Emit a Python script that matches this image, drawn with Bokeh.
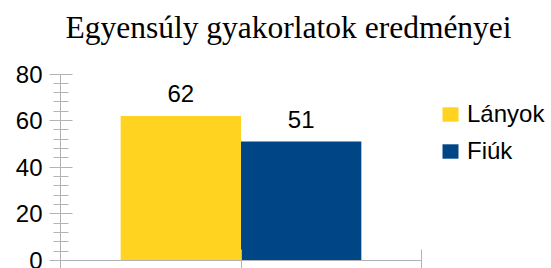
from bokeh.plotting import figure
from bokeh.models import (ColumnDataSource, Range1d, FixedTicker,
                          SingleIntervalTicker, LabelSet, Legend, LegendItem)
from bokeh.core.properties import value
from bokeh.transform import dodge
from bokeh.embed import file_html
from bokeh.resources import INLINE

title = "Egyensúly gyakorlatok eredményei"
group = ["Eredmény"]
series = ["Lányok", "Fiúk"]
values = [62, 51]
colors = ["#FFD320", "#004586"]
y_ticks_step = 20
y_max = 80

# layout (pixels)
W, H = 551, 268
frame_left, frame_right = 60, 551
frame_top, frame_bottom = 46, 260
axis_right_px = 421         # where the category axis ends
axis_top_px = 73.5          # where y_max sits

# each category occupies 2 units on the x axis; its centre is at 2*i + 1
n_groups = len(group)
x_max = 2 * n_groups
centres = [2 * i + 1 for i in range(n_groups)]
bar_w = 2 / 3
x_end = x_max * (frame_right - frame_left) / (axis_right_px - frame_left)
y_end = y_max * (frame_bottom - frame_top) / (frame_bottom - axis_top_px)

p = figure(width=W, height=H, x_range=Range1d(0, x_end), y_range=Range1d(0, y_end),
           output_backend="svg", toolbar_location=None,
           min_border_left=frame_left, min_border_right=W - frame_right,
           min_border_top=frame_top, min_border_bottom=H - frame_bottom)
p.outline_line_color = None
p.grid.visible = False
p.background_fill_color = "white"

p.title.text = title
p.title.text_font = "Liberation Serif"
p.title.text_font_size = "31.5px"
p.title.text_font_style = "normal"
p.title.text_color = "black"
p.title.align = "left"
p.title.offset = 5
p.title.standoff = 4

offsets = [-bar_w / 2, bar_w / 2]
items = []
for name, val, col, off in zip(series, values, colors, offsets):
    src = ColumnDataSource(dict(x=centres, y=[val], label=[str(val)]))
    r = p.vbar(x=dodge("x", off), top="y", width=bar_w, source=src,
               fill_color=col, line_color=None)
    items.append(LegendItem(label=name, renderers=[r]))
    lbl = LabelSet(x=dodge("x", off), y="y", text="label", source=src,
                   text_align="center", text_baseline="alphabetic", y_offset=14,
                   text_font=value("Liberation Sans"), text_font_size=value("24px"),
                   text_color="black")
    p.add_layout(lbl)

ax = p.yaxis[0]
ax.ticker = SingleIntervalTicker(interval=y_ticks_step, num_minor_ticks=5)
ax.bounds = (0, y_max)
ax.axis_line_color = "#b3b3b3"
ax.major_tick_line_color = "#b3b3b3"
ax.minor_tick_line_color = "#b3b3b3"
ax.major_tick_in = 12
ax.major_tick_out = 11
ax.minor_tick_in = 8
ax.minor_tick_out = 7
ax.major_label_standoff = 7
ax.major_label_text_font = "Liberation Sans"
ax.major_label_text_font_size = "24px"
ax.major_label_text_color = "black"

xticks = list(range(0, x_max + 1))
xa = p.xaxis[0]
xa.ticker = FixedTicker(ticks=xticks)
xa.bounds = (0, x_max)
xa.axis_line_color = "#b3b3b3"
xa.major_tick_line_color = "#b3b3b3"
xa.major_tick_in = 11
xa.major_tick_out = 8
xa.minor_tick_line_color = None
xa.major_label_overrides = {t: "" for t in xticks}
xa.major_label_text_font_size = "1px"
xa.major_label_standoff = 0

legend = Legend(items=items, location=(380, 95), orientation="vertical",
                margin=0, padding=0, border_line_color=None, background_fill_alpha=0,
                glyph_width=20, glyph_height=18, label_standoff=7, spacing=9,
                label_height=28,
                label_text_font="Liberation Sans", label_text_font_size="24px",
                label_text_color="black")
p.add_layout(legend)

open("out.html", "w").write(file_html(p, INLINE))
